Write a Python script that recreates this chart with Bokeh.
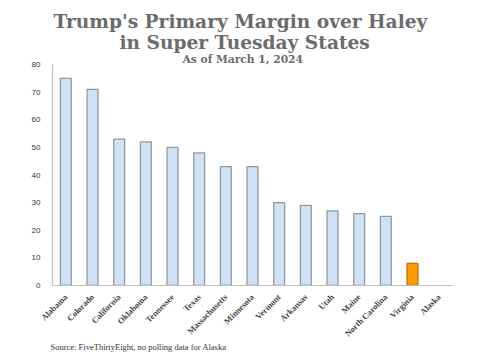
import math
from bokeh.plotting import figure
from bokeh.models import ColumnDataSource, Range1d, Title
from bokeh.embed import file_html
from bokeh.resources import INLINE

states = ["Alabama", "Colorado", "California", "Oklahoma", "Tennessee", "Texas",
          "Massachusetts", "Minnesota", "Vermont", "Arkansas", "Utah", "Maine",
          "North Carolina", "Virginia", "Alaska"]
margins = [75, 71, 53, 52, 50, 48, 43, 43, 30, 29, 27, 26, 25, 8, float("nan")]
fills = ["#cfe2f3"] * 13 + ["#ff9900", "#cfe2f3"]
edges = ["#8c9aa6"] * 13 + ["#b8740a", "#8c9aa6"]
y_ticks = [0, 10, 20, 30, 40, 50, 60, 70, 80]

src = ColumnDataSource(dict(state=states, margin=margins, fill=fills, edge=edges))

p = figure(x_range=states, width=485, height=360, output_backend="svg",
           toolbar_location=None, min_border_left=52, min_border_right=33,
           min_border_top=64, min_border_bottom=75)
p.y_range = Range1d(0, 80)
p.vbar(x="state", top="margin", width=0.41, source=src, fill_color="fill",
       line_color="edge", line_width=1.3)

p.title.visible = False
p.grid.visible = False
p.outline_line_color = None
p.background_fill_color = "white"
p.border_fill_color = "white"

for ax in (p.xaxis[0], p.yaxis[0]):
    ax.axis_line_color = "#bdbdbd"
    ax.axis_line_width = 1.2
    ax.major_tick_line_color = None
    ax.minor_tick_line_color = None
    ax.major_label_standoff = 4

p.yaxis.ticker = y_ticks
p.yaxis.major_label_text_font = "Liberation Sans"
p.yaxis.major_label_text_font_size = "8px"
p.yaxis.major_label_text_color = "#333333"
p.yaxis.major_label_standoff = 6

p.xaxis.major_label_orientation = math.pi / 4
p.xaxis.major_label_text_font = "Liberation Serif"
p.xaxis.major_label_text_font_style = "bold"
p.xaxis.major_label_text_font_size = "8.5px"
p.xaxis.major_label_text_color = "#444444"

title_color = "#6b6b6b"
p.add_layout(Title(text="As of March 1, 2024", align="left",
                   text_font="DejaVu Serif", text_font_style="bold",
                   text_font_size="10.7px", text_color=title_color,
                   standoff=-3, offset=130), "above")
p.add_layout(Title(text="in Super Tuesday States",
                   align="left", text_font="DejaVu Serif",
                   text_font_style="bold", text_font_size="18.6px",
                   text_color=title_color, standoff=-1, offset=67), "above")
p.add_layout(Title(text="Trump's Primary Margin over Haley",
                   align="left", text_font="DejaVu Serif",
                   text_font_style="bold", text_font_size="18.6px",
                   text_color=title_color, standoff=-3, offset=1), "above")
p.add_layout(Title(text="Source: FiveThirtyEight, no polling data for Alaska",
                   align="left", text_font="Liberation Serif",
                   text_font_style="normal", text_font_size="8.5px",
                   text_color="#333333", standoff=-13, offset=-2), "below")
p.add_layout(Title(text=" ", text_font_size="9px", standoff=2), "below")

open("out.html", "w").write(file_html(p, INLINE))
